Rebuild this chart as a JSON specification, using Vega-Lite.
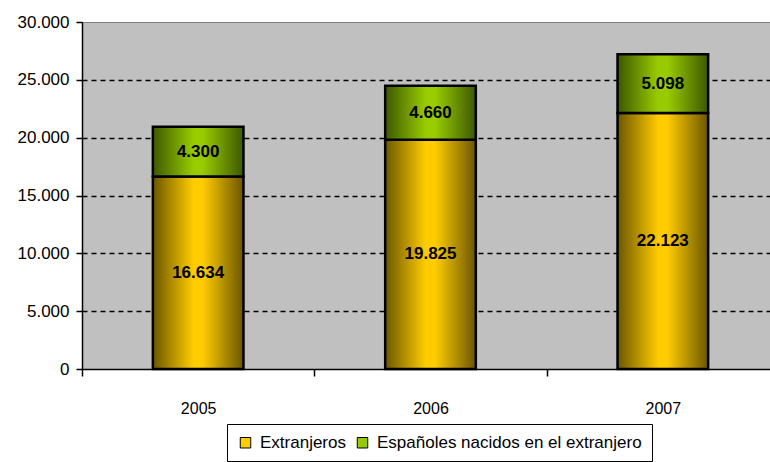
{
  "$schema": "https://vega.github.io/schema/vega-lite/v6.json",
  "width": 697,
  "height": 347,
  "autosize": "none",
  "padding": {"left": 82, "top": 22, "right": 0, "bottom": 93},
  "background": "white",
  "config": {
    "view": {"fill": "#C0C0C0", "stroke": "#808080", "strokeWidth": 1},
    "font": "Liberation Sans",
    "locale": {"number": {"decimal": ",", "thousands": ".", "grouping": [3], "currency": ["", " €"]}}
  },
  "data": {
    "values": [
      {"year": "2005", "serie": "Extranjeros", "valor": 16634, "orden": 1},
      {"year": "2005", "serie": "Españoles nacidos en el extranjero", "valor": 4300, "orden": 2},
      {"year": "2006", "serie": "Extranjeros", "valor": 19825, "orden": 1},
      {"year": "2006", "serie": "Españoles nacidos en el extranjero", "valor": 4660, "orden": 2},
      {"year": "2007", "serie": "Extranjeros", "valor": 22123, "orden": 1},
      {"year": "2007", "serie": "Españoles nacidos en el extranjero", "valor": 5098, "orden": 2}
    ]
  },
  "transform": [
    {"stack": "valor", "groupby": ["year"], "sort": [{"field": "orden"}], "as": ["y0", "y1"]},
    {"calculate": "(datum.y0 + datum.y1) / 2", "as": "ymid"}
  ],
  "encoding": {
    "x": {
      "field": "year",
      "type": "nominal",
      "scale": {"paddingInner": 0, "paddingOuter": 0},
      "axis": {
        "title": null,
        "labelAngle": 0,
        "tickBand": "extent",
        "tickSize": 7,
        "tickColor": "black",
        "tickWidth": 1.5,
        "domainColor": "black",
        "domainWidth": 1.5,
        "labelFontSize": 16,
        "labelColor": "black",
        "labelPadding": 24,
        "grid": false
      }
    }
  },
  "layer": [
    {
      "mark": {"type": "bar", "width": {"band": 0.39}},
      "encoding": {
        "y": {
          "field": "y0",
          "type": "quantitative",
          "scale": {"domain": [0, 30000], "nice": false},
          "axis": {
            "title": null,
            "values": [0, 5000, 10000, 15000, 20000, 25000, 30000],
            "format": ",d",
            "tickSize": 6,
            "tickColor": "black",
            "tickWidth": 1.5,
            "domainColor": "black",
            "domainWidth": 1.5,
            "labelFontSize": 17,
            "labelColor": "black",
            "labelPadding": 7,
            "grid": true,
            "gridColor": "black",
            "gridDash": [5, 4],
            "gridWidth": 1.5,
            "gridOpacity": {"condition": {"test": "datum.value === 0 || datum.value === 30000", "value": 0}, "value": 1}
          }
        },
        "y2": {"field": "y1"},
        "color": {
          "field": "serie",
          "type": "nominal",
          "scale": {"domain": ["Extranjeros", "Españoles nacidos en el extranjero"], "range": ["#FFCC00", "#99CC00"]},
          "legend": {
            "title": null,
            "orient": "none",
            "legendX": 145,
            "legendY": 402,
            "direction": "horizontal",
            "strokeColor": "black",
            "fillColor": "white",
            "padding": 10,
            "labelFontSize": 17,
            "labelColor": "black",
            "labelLimit": 400,
            "labelOffset": 6,
            "symbolType": "square",
            "symbolSize": 110,
            "symbolStrokeColor": "black",
            "symbolStrokeWidth": 1,
            "symbolOpacity": 1,
            "columnPadding": 8
          }
        }
      }
    },
    {
      "transform": [{"filter": "datum.serie === 'Extranjeros'"}],
      "mark": {
        "type": "bar",
        "width": {"band": 0.39},
        "stroke": "black",
        "strokeWidth": 2.5,
        "fill": {
          "gradient": "linear", "x1": 0, "x2": 1, "y1": 0, "y2": 0,
          "stops": [
            {"offset": 0, "color": "#6B5600"},
            {"offset": 0.45, "color": "#FFCC00"},
            {"offset": 0.55, "color": "#FFCC00"},
            {"offset": 1, "color": "#6B5600"}
          ]
        }
      },
      "encoding": {"y": {"field": "y0", "type": "quantitative"}, "y2": {"field": "y1"}}
    },
    {
      "transform": [{"filter": "datum.serie !== 'Extranjeros'"}],
      "mark": {
        "type": "bar",
        "width": {"band": 0.39},
        "stroke": "black",
        "strokeWidth": 2.5,
        "fill": {
          "gradient": "linear", "x1": 0, "x2": 1, "y1": 0, "y2": 0,
          "stops": [
            {"offset": 0, "color": "#3D5800"},
            {"offset": 0.45, "color": "#99CC00"},
            {"offset": 0.55, "color": "#99CC00"},
            {"offset": 1, "color": "#3D5800"}
          ]
        }
      },
      "encoding": {"y": {"field": "y0", "type": "quantitative"}, "y2": {"field": "y1"}}
    },
    {
      "mark": {"type": "text", "fontWeight": "bold", "fontSize": 17, "color": "black"},
      "encoding": {
        "y": {"field": "ymid", "type": "quantitative"},
        "text": {"field": "valor", "type": "quantitative", "format": ",d"}
      }
    }
  ]
}
